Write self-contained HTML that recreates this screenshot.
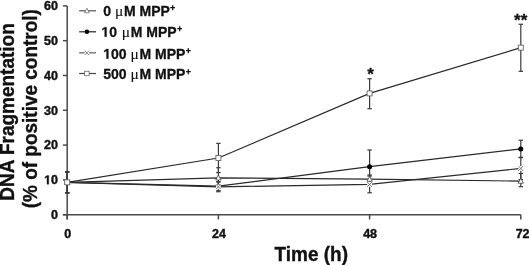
<!DOCTYPE html>
<html><head><meta charset="utf-8"><style>
html,body{margin:0;padding:0;background:#fff;}
body{width:529px;height:265px;overflow:hidden;}
svg{display:block;}
text{font-family:"Liberation Sans",sans-serif;font-weight:bold;fill:#111;stroke:#111;stroke-width:0.3px;}
.mu{stroke-width:0.1px;}
svg{filter:blur(0.35px);}
.tk{font-size:12.5px;stroke-width:0.4px;}
.lg{font-size:14px;}
.mu{font-family:"Liberation Serif",serif;font-weight:normal;font-size:15.5px;}
.sup{font-size:9px;}
.ttl{font-size:19px;stroke-width:0.35px;}
.ast{font-size:17px;}
</style></head><body>
<svg width="529" height="265" viewBox="0 0 529 265">
<rect width="529" height="265" fill="#fff"/>
<line x1="67.20" y1="5.90" x2="67.20" y2="219.50" stroke="#4a4a4a" stroke-width="1.5"/>
<line x1="62.90" y1="214.70" x2="520.80" y2="214.70" stroke="#4a4a4a" stroke-width="1.5"/>
<line x1="62.90" y1="214.70" x2="67.20" y2="214.70" stroke="#4a4a4a" stroke-width="1.5"/>
<text x="58" y="219.00" text-anchor="end" class="tk">0</text>
<line x1="62.90" y1="179.90" x2="67.20" y2="179.90" stroke="#4a4a4a" stroke-width="1.5"/>
<text x="58" y="184.20" text-anchor="end" class="tk">0</text>
<path d="M478,0L478,1170L140,959L140,1180L493,1409L759,1409L759,0Z" transform="translate(44.096,184.200) scale(0.006104,-0.006104)" fill="#111" stroke="#111" stroke-width="0.4" vector-effect="non-scaling-stroke"/>
<line x1="62.90" y1="145.10" x2="67.20" y2="145.10" stroke="#4a4a4a" stroke-width="1.5"/>
<text x="58" y="149.40" text-anchor="end" class="tk">20</text>
<line x1="62.90" y1="110.30" x2="67.20" y2="110.30" stroke="#4a4a4a" stroke-width="1.5"/>
<text x="58" y="114.60" text-anchor="end" class="tk">30</text>
<line x1="62.90" y1="75.50" x2="67.20" y2="75.50" stroke="#4a4a4a" stroke-width="1.5"/>
<text x="58" y="79.80" text-anchor="end" class="tk">40</text>
<line x1="62.90" y1="40.70" x2="67.20" y2="40.70" stroke="#4a4a4a" stroke-width="1.5"/>
<text x="58" y="45.00" text-anchor="end" class="tk">50</text>
<line x1="62.90" y1="5.90" x2="67.20" y2="5.90" stroke="#4a4a4a" stroke-width="1.5"/>
<text x="58" y="10.20" text-anchor="end" class="tk">60</text>
<line x1="67.20" y1="214.70" x2="67.20" y2="219.50" stroke="#4a4a4a" stroke-width="1.5"/>
<text x="67.70" y="237.8" text-anchor="middle" class="tk">0</text>
<line x1="218.40" y1="214.70" x2="218.40" y2="219.50" stroke="#4a4a4a" stroke-width="1.5"/>
<text x="218.90" y="237.8" text-anchor="middle" class="tk">24</text>
<line x1="369.60" y1="214.70" x2="369.60" y2="219.50" stroke="#4a4a4a" stroke-width="1.5"/>
<text x="370.10" y="237.8" text-anchor="middle" class="tk">48</text>
<line x1="520.80" y1="214.70" x2="520.80" y2="219.50" stroke="#4a4a4a" stroke-width="1.5"/>
<text x="522.60" y="237.8" text-anchor="middle" class="tk">72</text>
<line x1="67.20" y1="171.90" x2="67.20" y2="192.78" stroke="#3a3a3a" stroke-width="1.2"/>
<line x1="65.00" y1="171.90" x2="69.40" y2="171.90" stroke="#3a3a3a" stroke-width="1.2"/>
<line x1="65.00" y1="192.78" x2="69.40" y2="192.78" stroke="#3a3a3a" stroke-width="1.2"/>
<line x1="218.40" y1="167.72" x2="218.40" y2="187.90" stroke="#3a3a3a" stroke-width="1.2"/>
<line x1="216.20" y1="167.72" x2="220.60" y2="167.72" stroke="#3a3a3a" stroke-width="1.2"/>
<line x1="216.20" y1="187.90" x2="220.60" y2="187.90" stroke="#3a3a3a" stroke-width="1.2"/>
<line x1="369.60" y1="175.03" x2="369.60" y2="183.38" stroke="#3a3a3a" stroke-width="1.2"/>
<line x1="367.40" y1="175.03" x2="371.80" y2="175.03" stroke="#3a3a3a" stroke-width="1.2"/>
<line x1="367.40" y1="183.38" x2="371.80" y2="183.38" stroke="#3a3a3a" stroke-width="1.2"/>
<line x1="520.80" y1="173.46" x2="520.80" y2="186.69" stroke="#3a3a3a" stroke-width="1.2"/>
<line x1="518.60" y1="173.46" x2="523.00" y2="173.46" stroke="#3a3a3a" stroke-width="1.2"/>
<line x1="518.60" y1="186.69" x2="523.00" y2="186.69" stroke="#3a3a3a" stroke-width="1.2"/>
<line x1="67.20" y1="171.90" x2="67.20" y2="192.78" stroke="#3a3a3a" stroke-width="1.2"/>
<line x1="65.00" y1="171.90" x2="69.40" y2="171.90" stroke="#3a3a3a" stroke-width="1.2"/>
<line x1="65.00" y1="192.78" x2="69.40" y2="192.78" stroke="#3a3a3a" stroke-width="1.2"/>
<line x1="218.40" y1="181.64" x2="218.40" y2="190.69" stroke="#3a3a3a" stroke-width="1.2"/>
<line x1="216.20" y1="181.64" x2="220.60" y2="181.64" stroke="#3a3a3a" stroke-width="1.2"/>
<line x1="216.20" y1="190.69" x2="220.60" y2="190.69" stroke="#3a3a3a" stroke-width="1.2"/>
<line x1="369.60" y1="149.97" x2="369.60" y2="183.38" stroke="#3a3a3a" stroke-width="1.2"/>
<line x1="367.40" y1="149.97" x2="371.80" y2="149.97" stroke="#3a3a3a" stroke-width="1.2"/>
<line x1="367.40" y1="183.38" x2="371.80" y2="183.38" stroke="#3a3a3a" stroke-width="1.2"/>
<line x1="520.80" y1="140.23" x2="520.80" y2="157.63" stroke="#3a3a3a" stroke-width="1.2"/>
<line x1="518.60" y1="140.23" x2="523.00" y2="140.23" stroke="#3a3a3a" stroke-width="1.2"/>
<line x1="518.60" y1="157.63" x2="523.00" y2="157.63" stroke="#3a3a3a" stroke-width="1.2"/>
<line x1="67.20" y1="171.90" x2="67.20" y2="192.78" stroke="#3a3a3a" stroke-width="1.2"/>
<line x1="65.00" y1="171.90" x2="69.40" y2="171.90" stroke="#3a3a3a" stroke-width="1.2"/>
<line x1="65.00" y1="192.78" x2="69.40" y2="192.78" stroke="#3a3a3a" stroke-width="1.2"/>
<line x1="218.40" y1="181.99" x2="218.40" y2="191.73" stroke="#3a3a3a" stroke-width="1.2"/>
<line x1="216.20" y1="181.99" x2="220.60" y2="181.99" stroke="#3a3a3a" stroke-width="1.2"/>
<line x1="216.20" y1="191.73" x2="220.60" y2="191.73" stroke="#3a3a3a" stroke-width="1.2"/>
<line x1="369.60" y1="176.07" x2="369.60" y2="192.78" stroke="#3a3a3a" stroke-width="1.2"/>
<line x1="367.40" y1="176.07" x2="371.80" y2="176.07" stroke="#3a3a3a" stroke-width="1.2"/>
<line x1="367.40" y1="192.78" x2="371.80" y2="192.78" stroke="#3a3a3a" stroke-width="1.2"/>
<line x1="520.80" y1="157.28" x2="520.80" y2="179.55" stroke="#3a3a3a" stroke-width="1.2"/>
<line x1="518.60" y1="157.28" x2="523.00" y2="157.28" stroke="#3a3a3a" stroke-width="1.2"/>
<line x1="518.60" y1="179.55" x2="523.00" y2="179.55" stroke="#3a3a3a" stroke-width="1.2"/>
<line x1="67.20" y1="171.90" x2="67.20" y2="192.78" stroke="#3a3a3a" stroke-width="1.2"/>
<line x1="65.00" y1="171.90" x2="69.40" y2="171.90" stroke="#3a3a3a" stroke-width="1.2"/>
<line x1="65.00" y1="192.78" x2="69.40" y2="192.78" stroke="#3a3a3a" stroke-width="1.2"/>
<line x1="218.40" y1="143.36" x2="218.40" y2="172.59" stroke="#3a3a3a" stroke-width="1.2"/>
<line x1="216.20" y1="143.36" x2="220.60" y2="143.36" stroke="#3a3a3a" stroke-width="1.2"/>
<line x1="216.20" y1="172.59" x2="220.60" y2="172.59" stroke="#3a3a3a" stroke-width="1.2"/>
<line x1="369.60" y1="78.74" x2="369.60" y2="108.73" stroke="#3a3a3a" stroke-width="1.2"/>
<line x1="367.40" y1="78.74" x2="371.80" y2="78.74" stroke="#3a3a3a" stroke-width="1.2"/>
<line x1="367.40" y1="108.73" x2="371.80" y2="108.73" stroke="#3a3a3a" stroke-width="1.2"/>
<line x1="520.80" y1="24.27" x2="520.80" y2="71.32" stroke="#3a3a3a" stroke-width="1.2"/>
<line x1="518.60" y1="24.27" x2="523.00" y2="24.27" stroke="#3a3a3a" stroke-width="1.2"/>
<line x1="518.60" y1="71.32" x2="523.00" y2="71.32" stroke="#3a3a3a" stroke-width="1.2"/>
<polyline points="67.20,182.34 218.40,177.81 369.60,179.20 520.80,181.12" fill="none" stroke="#2a2a2a" stroke-width="1.2"/>
<polyline points="67.20,182.34 218.40,186.16 369.60,166.68 520.80,148.93" fill="none" stroke="#2a2a2a" stroke-width="1.2"/>
<polyline points="67.20,182.34 218.40,186.86 369.60,184.42 520.80,168.42" fill="none" stroke="#2a2a2a" stroke-width="1.2"/>
<polyline points="67.20,182.34 218.40,157.98 369.60,93.42 520.80,47.66" fill="none" stroke="#2a2a2a" stroke-width="1.2"/>
<polygon points="67.20,179.54 69.86,184.44 64.54,184.44" fill="#fff" stroke="#444" stroke-width="0.8"/>
<polygon points="218.40,175.01 221.06,179.91 215.74,179.91" fill="#fff" stroke="#444" stroke-width="0.8"/>
<polygon points="369.60,176.40 372.26,181.30 366.94,181.30" fill="#fff" stroke="#444" stroke-width="0.8"/>
<polygon points="520.80,178.32 523.46,183.22 518.14,183.22" fill="#fff" stroke="#444" stroke-width="0.8"/>
<circle cx="67.20" cy="182.34" r="2.50" fill="#000"/>
<circle cx="218.40" cy="186.16" r="2.50" fill="#000"/>
<circle cx="369.60" cy="166.68" r="2.50" fill="#000"/>
<circle cx="520.80" cy="148.93" r="2.50" fill="#000"/>
<rect x="64.80" y="179.94" width="4.80" height="4.80" fill="#fff"/>
<path d="M64.80,179.94L69.60,184.74M69.60,179.94L64.80,184.74" stroke="#666" stroke-width="0.9" fill="none"/>
<rect x="216.00" y="184.46" width="4.80" height="4.80" fill="#fff"/>
<path d="M216.00,184.46L220.80,189.26M220.80,184.46L216.00,189.26" stroke="#666" stroke-width="0.9" fill="none"/>
<rect x="367.20" y="182.02" width="4.80" height="4.80" fill="#fff"/>
<path d="M367.20,182.02L372.00,186.82M372.00,182.02L367.20,186.82" stroke="#666" stroke-width="0.9" fill="none"/>
<rect x="518.40" y="166.02" width="4.80" height="4.80" fill="#fff"/>
<path d="M518.40,166.02L523.20,170.82M523.20,166.02L518.40,170.82" stroke="#666" stroke-width="0.9" fill="none"/>
<rect x="64.70" y="179.84" width="5.00" height="5.00" fill="#fff" stroke="#666" stroke-width="0.9"/>
<rect x="215.90" y="155.48" width="5.00" height="5.00" fill="#fff" stroke="#666" stroke-width="0.9"/>
<rect x="367.10" y="90.92" width="5.00" height="5.00" fill="#fff" stroke="#666" stroke-width="0.9"/>
<rect x="518.30" y="45.16" width="5.00" height="5.00" fill="#fff" stroke="#666" stroke-width="0.9"/>
<text x="370.50" y="79.8" text-anchor="middle" class="ast">*</text>
<text x="520.70" y="25.8" text-anchor="middle" class="ast">**</text>
<line x1="79.20" y1="10.80" x2="96.00" y2="10.80" stroke="#444" stroke-width="1.1"/>
<polygon points="86.90,8.28 89.29,12.69 84.51,12.69" fill="#fff" stroke="#666" stroke-width="0.8"/>
<text x="103.2" y="15.80" class="lg">0 <tspan class="mu" dx="0">μ</tspan><tspan dx="0.8">M MPP</tspan><tspan class="sup" dx="0.2" dy="-4.6">+</tspan></text>
<line x1="79.20" y1="31.80" x2="96.00" y2="31.80" stroke="#222" stroke-width="1.2"/>
<circle cx="86.90" cy="31.80" r="2.25" fill="#000"/>
<path d="M478,0L478,1170L140,959L140,1180L493,1409L759,1409L759,0Z" transform="translate(101.400,36.800) scale(0.006836,-0.006836)" fill="#111" stroke="#111" stroke-width="0.3" vector-effect="non-scaling-stroke"/>
<text x="109.18610000000001" y="36.80" class="lg">0 <tspan class="mu" dx="0.8">μ</tspan><tspan dx="0.8">M MPP</tspan><tspan class="sup" dx="0.2" dy="-4.6">+</tspan></text>
<line x1="79.20" y1="52.80" x2="96.00" y2="52.80" stroke="#808080" stroke-width="1.5"/>
<rect x="84.74" y="50.64" width="4.32" height="4.32" fill="#fff"/>
<path d="M84.74,50.64L89.06,54.96M89.06,50.64L84.74,54.96" stroke="#666" stroke-width="0.8" fill="none"/>
<path d="M478,0L478,1170L140,959L140,1180L493,1409L759,1409L759,0Z" transform="translate(103.200,58.700) scale(0.006836,-0.006836)" fill="#111" stroke="#111" stroke-width="0.3" vector-effect="non-scaling-stroke"/>
<text x="110.98610000000001" y="58.70" class="lg">00 <tspan class="mu" dx="0">μ</tspan><tspan dx="0.8">M MPP</tspan><tspan class="sup" dx="0.2" dy="-4.6">+</tspan></text>
<line x1="79.20" y1="73.50" x2="96.00" y2="73.50" stroke="#444" stroke-width="1.2"/>
<rect x="84.65" y="71.25" width="4.50" height="4.50" fill="#fff" stroke="#666" stroke-width="0.8"/>
<text x="103.2" y="79.30" class="lg">500 <tspan class="mu" dx="0">μ</tspan><tspan dx="0.8">M MPP</tspan><tspan class="sup" dx="0.2" dy="-4.6">+</tspan></text>
<text transform="translate(311.3,260.7) scale(1,1.07)" text-anchor="middle" class="ttl">Time (h)</text>
<text transform="translate(14.3,112.0) rotate(-90) scale(1,1.07)" text-anchor="middle" class="ttl">DNA Fragmentation</text>
<text transform="translate(37,108.7) rotate(-90) scale(1,1.03)" text-anchor="middle" class="ttl">(% of positive control)</text>
</svg>
</body></html>
